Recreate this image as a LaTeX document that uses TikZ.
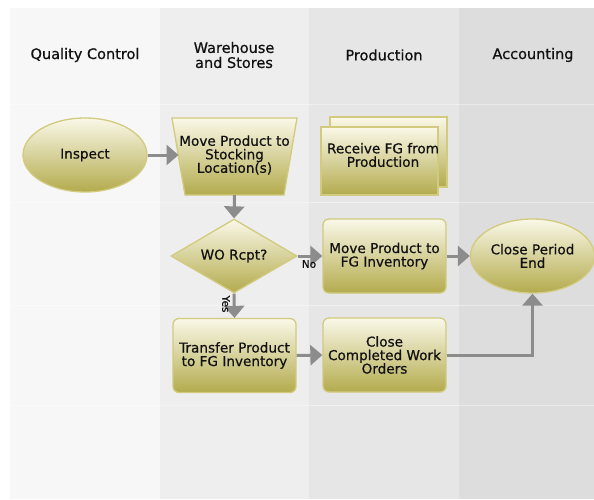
\documentclass[tikz,border=0pt]{standalone}
\usepackage{fontspec}
\setmainfont[FakeBold=0.6]{DejaVu Sans}
\usetikzlibrary{shapes.geometric,arrows.meta}
\definecolor{laneA}{HTML}{F7F7F7}
\definecolor{laneB}{HTML}{EEEEEE}
\definecolor{laneC}{HTML}{E6E6E6}
\definecolor{laneD}{HTML}{DDDDDD}
\definecolor{oTop}{HTML}{FAF8E8}
\definecolor{oMid}{HTML}{D4CD88}
\definecolor{oBot}{HTML}{B3AB4D}
\definecolor{oBorder}{HTML}{D2CA7E}
\definecolor{arrgray}{HTML}{8C8C8C}
\definecolor{txt}{HTML}{111111}
\tikzset{
  shaded/.style={draw=oBorder, line width=1.3pt, top color=oTop, middle color=oMid, bottom color=oBot},
  proc/.style={shaded, rectangle, rounded corners=6pt, minimum width=123pt, minimum height=74pt, inner sep=0pt, align=center, font=\nodefont, text=txt},
  term/.style={shaded, ellipse, minimum width=124pt, minimum height=74pt, inner sep=0pt, align=center, font=\nodefont, text=txt},
  decis/.style={shaded, diamond, aspect=1.7, minimum width=126pt, minimum height=74pt, inner sep=0pt, align=center, font=\nodefont, text=txt},
  plain/.style={align=center, font=\nodefont, text=txt, inner sep=0pt},
  header/.style={align=center, font=\headfont, text=txt, inner sep=0pt},
  small/.style={font=\smallfont, text=txt, inner sep=0pt},
  arr/.style={draw=arrgray, line width=3pt, -{Triangle[length=12pt,width=20pt]}},
  rowsep/.style={draw=white, opacity=0.4, line width=1pt}
}
\newcommand{\nodefont}{\fontsize{13.6}{13.5}\selectfont}
\newcommand{\headfont}{\fontsize{14.5}{15}\selectfont}
\newcommand{\smallfont}{\fontsize{10.5}{11}\selectfont}
\begin{document}
\begin{tikzpicture}[x=1pt,y=-1pt]
\useasboundingbox (0,0) rectangle (594,499);
% lanes
\fill[laneA] (10,8) rectangle (160,499);
\fill[laneB] (160,8) rectangle (309,499);
\fill[laneC] (309,8) rectangle (459,499);
\fill[laneD] (459,8) rectangle (594,499);
\draw[rowsep] (10,104) -- (594,104);
\draw[rowsep] (10,202) -- (594,202);
\draw[rowsep] (10,305) -- (594,305);
\draw[rowsep] (10,405) -- (594,405);
% headers
\node[header] (hqc) at (85,55) {Quality Control};
\node[header] (hws) at (234,55) {Warehouse\\and Stores};
\node[header] (hpr) at (384,55) {Production};
\node[header] (hac) at (533,55) {Accounting};
% shapes
\node[term] (inspect) at (85,155) {Inspect};
\path[shaded] (172,118) -- (297,118) -- (284,195) -- (185,195) -- cycle;
\node[plain, minimum width=125pt, minimum height=77pt] (stock) at (234.5,156.5) {};
\node[plain] (stocktxt) at (234.5,155) {Move Product to\\Stocking\\Location(s)};
\coordinate (stockL) at (178.5,155);
\path[shaded] (330,117) rectangle (447,187);
\path[shaded] (321,127) rectangle (438,195);
\node[plain] (recv) at (383,155) {Receive FG from\\Production};
\node[decis] (wo) at (234,256) {WO Rcpt?};
\node[proc] (movefg) at (384.5,256) {Move Product to\\FG Inventory};
\node[term] (cpe) at (532.5,256) {Close Period\\End};
\node[proc] (transfer) at (234.5,355.5) {Transfer Product\\to FG Inventory};
\node[proc] (ccwo) at (384.5,355) {Close\\Completed Work\\Orders};
% connectors
\draw[arr] (inspect.east) -- (stockL);
\draw[arr] (stock.south) -- (wo.north);
\draw[arr] (wo.east) -- (movefg.west);
\draw[arr] (wo.south) -- (transfer.north);
\draw[arr] (movefg.east) -- (cpe.west);
\draw[arr] (transfer.east) -- (ccwo.west);
\draw[arr] (ccwo.east) -| (cpe.south);
\node[small] (nolab) at (309,264) {No};
\node[small, rotate=-90] (yeslab) at (226,304) {Yes};
\end{tikzpicture}
\end{document}
